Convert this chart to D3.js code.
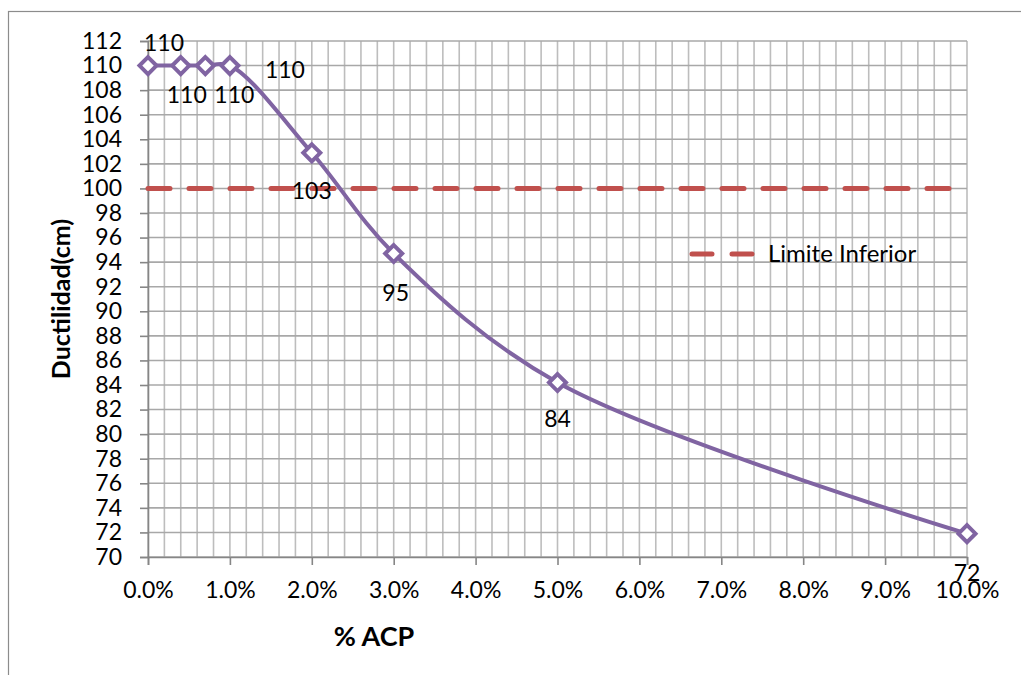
<!DOCTYPE html>
<html>
<head>
<meta charset="utf-8">
<script src="https://cdn.jsdelivr.net/npm/d3@7"></script>
<style>
  html, body { margin: 0; padding: 0; background: #fff; }
  svg { display: block; font-family: Lato, "Open Sans", sans-serif; }
</style>
</head>
<body>
<svg id="chart" width="1021" height="675"></svg>
<script>
// Ductility vs. % ACP
const acp = [0.000, 0.004, 0.007, 0.010, 0.020, 0.030, 0.050, 0.100];
const ductilidad = [110, 110, 110, 110, 102.9, 94.7, 84.2, 71.9];
const pointLabels = ["110", "110", "110", "110", "103", "95", "84", "72"];
const limiteInferior = 100;
const xTicks = [0, 0.01, 0.02, 0.03, 0.04, 0.05, 0.06, 0.07, 0.08, 0.09, 0.10];
const yTicks = d3.range(70, 113, 2);
const xMinorGrid = d3.range(0, 0.1001, 0.002);

// label placement relative to each marker (dx, dy)
const labelOffsets = [[16, -15], [6, 37], [29, 37], [55, 12], [0, 46], [2, 47], [0, 44], [0, 47]];

const FONT = 23;
const svg = d3.select("#chart");
const plot = { left: 148, right: 967, top: 41, bottom: 557 };

const x = d3.scaleLinear().domain([0, 0.10]).range([plot.left, plot.right]);
const y = d3.scaleLinear().domain([70, 112]).range([plot.bottom, plot.top]);

// chart frame
svg.append("rect")
  .attr("x", 8.5).attr("y", 11.5).attr("width", 1030).attr("height", 700)
  .attr("fill", "none").attr("stroke", "#8c8c8c").attr("stroke-width", 1.2);

// gridlines
const grid = svg.append("g");
grid.selectAll("line.v").data(xMinorGrid).join("line")
  .attr("x1", d => x(d)).attr("x2", d => x(d))
  .attr("y1", plot.top).attr("y2", plot.bottom)
  .attr("stroke", "#bdbdbd").attr("stroke-width", 1.6);
grid.selectAll("line.h").data(yTicks).join("line")
  .attr("x1", plot.left).attr("x2", plot.right)
  .attr("y1", d => y(d)).attr("y2", d => y(d))
  .attr("stroke", "#a8a8a8").attr("stroke-width", 1.6);

// axes
const xAxis = svg.append("g")
  .attr("transform", `translate(0,${plot.bottom})`)
  .call(d3.axisBottom(x).tickValues(xTicks).tickFormat(d3.format(".1%")).tickSize(8).tickPadding(17));
const yAxis = svg.append("g")
  .attr("transform", `translate(${plot.left},0)`)
  .call(d3.axisLeft(y).tickValues(yTicks).tickSize(8).tickPadding(18));

[xAxis, yAxis].forEach(a => {
  a.select(".domain").attr("stroke", "#868686").attr("stroke-width", 1.6);
  a.selectAll(".tick line").attr("stroke", "#868686").attr("stroke-width", 1.6);
  a.selectAll(".tick text").attr("fill", "#000").attr("font-size", FONT)
    .attr("font-family", "Lato, sans-serif");
});

// lower limit
svg.append("line")
  .attr("x1", x(0)).attr("x2", x(0.10))
  .attr("y1", y(limiteInferior)).attr("y2", y(limiteInferior))
  .attr("stroke", "#C0504D").attr("stroke-width", 5)
  .attr("stroke-dasharray", "22 19").attr("stroke-linecap", "round");

// smoothed ductility curve
const data = acp.map((v, i) => ({ x: v, y: ductilidad[i], label: pointLabels[i], off: labelOffsets[i] }));
svg.append("path")
  .datum(data)
  .attr("fill", "none").attr("stroke", "#8064A2").attr("stroke-width", 4)
  .attr("d", d3.line().x(d => x(d.x)).y(d => y(d.y)).curve(d3.curveCatmullRom.alpha(0.5)));

// markers
svg.selectAll("path.marker").data(data).join("path")
  .attr("class", "marker")
  .attr("transform", d => `translate(${x(d.x)},${y(d.y)})`)
  .attr("d", "M0,-8.5L8.5,0L0,8.5L-8.5,0Z")
  .attr("fill", "#fff").attr("stroke", "#8064A2").attr("stroke-width", 4);

// data labels
svg.selectAll("text.dl").data(data).join("text")
  .attr("x", d => x(d.x) + d.off[0]).attr("y", d => y(d.y) + d.off[1])
  .attr("text-anchor", "middle")
  .attr("font-size", FONT).attr("fill", "#000")
  .text(d => d.label);

// legend
const lg = svg.append("g").attr("transform", "translate(690,254)");
lg.append("line").attr("x1", 2).attr("x2", 62).attr("y1", 0).attr("y2", 0)
  .attr("stroke", "#C0504D").attr("stroke-width", 5)
  .attr("stroke-dasharray", "20 20").attr("stroke-linecap", "round");
lg.append("text").attr("x", 78).attr("y", 8).attr("font-size", 24).attr("fill", "#000")
  .text("Limite Inferior");

// axis titles
svg.append("text")
  .attr("transform", `translate(70,${(plot.top + plot.bottom) / 2}) rotate(-90)`)
  .attr("text-anchor", "middle").attr("font-size", 25).attr("font-weight", "bold")
  .text("Ductilidad(cm)");
svg.append("text")
  .attr("x", 374).attr("y", 646)
  .attr("text-anchor", "middle").attr("font-size", 27).attr("font-weight", "bold")
  .text("% ACP");
</script>
</body>
</html>
